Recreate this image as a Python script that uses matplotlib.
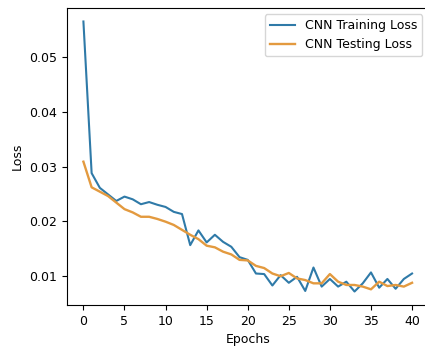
import matplotlib
matplotlib.use("Agg")
import matplotlib.pyplot as plt
import numpy as np

epochs = np.arange(41)

train_loss = [
    0.0566, 0.0288, 0.0261, 0.0249, 0.0237, 0.0245, 0.0240, 0.0231, 0.0235, 0.0230,
    0.0226, 0.0217, 0.0213, 0.0156, 0.0183, 0.0161, 0.0175, 0.0162, 0.0153, 0.0134,
    0.0129, 0.0104, 0.0103, 0.0082, 0.0101, 0.0087, 0.0098, 0.0072, 0.0115, 0.0080,
    0.0094, 0.0080, 0.0089, 0.0071, 0.0086, 0.0106, 0.0078, 0.0094, 0.0076, 0.0094,
    0.0104,
]

test_loss = [
    0.0309, 0.0262, 0.0254, 0.0246, 0.0234, 0.0222, 0.0216, 0.0208, 0.0208, 0.0204,
    0.0199, 0.0193, 0.0184, 0.0175, 0.0167, 0.0155, 0.0152, 0.0144, 0.0139, 0.0129,
    0.0128, 0.0118, 0.0114, 0.0104, 0.0099, 0.0105, 0.0095, 0.0092, 0.0086, 0.0086,
    0.0103, 0.0089, 0.0083, 0.0083, 0.0080, 0.0075, 0.0089, 0.0081, 0.0083, 0.0080,
    0.0087,
]

plt.rcParams["font.size"] = 9

fig = plt.figure(figsize=(4.25, 3.47), dpi=100)
# axes run past the right edge of the canvas
ax = fig.add_axes([0.1576, 0.121, 0.8506, 0.856])

ax.plot(epochs, train_loss, color="#2f7aa8", linewidth=1.5, label="CNN Training Loss")
ax.plot(epochs, test_loss, color="#e39a3f", linewidth=1.7, label="CNN Testing Loss")

ax.set_xlabel("Epochs")
ax.set_ylabel("Loss")
ax.set_xticks(np.arange(0, 41, 5))
ax.spines["right"].set_visible(False)
ax.legend(loc="upper right")

fig.savefig("out.png", dpi=100)
